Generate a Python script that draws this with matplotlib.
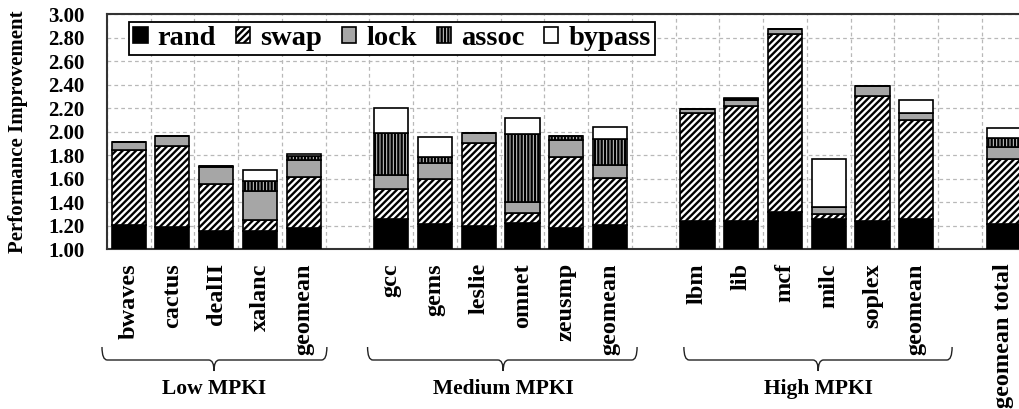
"""
Stacked performance improvement per benchmark, grouped by MPKI class
"""
import numpy as np
import matplotlib.pyplot as plt
from matplotlib import rcParams
from matplotlib.path import Path
from matplotlib.patches import PathPatch
from matplotlib.ticker import FixedLocator
import matplotlib.transforms as mtransforms

rcParams["font.family"] = "Liberation Serif"
rcParams["font.weight"] = "bold"
rcParams["axes.labelweight"] = "bold"
rcParams["hatch.linewidth"] = 1.7

groups = ["Low MPKI", "Medium MPKI", "High MPKI"]
benchmarks = [
    ["bwaves", "cactus", "dealII", "xalanc", "geomean"],
    ["gcc", "gems", "leslie", "omnet", "zeusmp", "geomean"],
    ["lbm", "lib", "mcf", "milc", "soplex", "geomean"],
]
total_label = "geomean total"

# contribution of each technique (rand is the absolute base)
rand = [1.21, 1.19, 1.16, 1.156, 1.18,
        1.254, 1.214, 1.20, 1.222, 1.182, 1.211,
        1.242, 1.242, 1.314, 1.256, 1.242, 1.259,
        1.219]
swap = [0.635, 0.693, 0.398, 0.094, 0.433,
        0.256, 0.384, 0.706, 0.083, 0.602, 0.393,
        0.920, 0.974, 1.521, 0.043, 1.060, 0.841,
        0.550]
lock = [0.067, 0.085, 0.142, 0.248, 0.147,
        0.120, 0.134, 0.083, 0.100, 0.148, 0.114,
        0.035, 0.054, 0.043, 0.063, 0.091, 0.060,
        0.103]
assoc = [0.0, 0.0, 0.005, 0.083, 0.035,
         0.364, 0.057, 0.0, 0.575, 0.030, 0.220,
         0.0, 0.010, 0.0, 0.0, 0.0, 0.0,
         0.079]
bypass = [0.0, 0.0, 0.005, 0.097, 0.015,
          0.209, 0.166, 0.0, 0.134, 0.004, 0.102,
          0.0, 0.005, 0.0, 0.410, 0.0, 0.111,
          0.083]

series = [
    ("rand", rand, dict(facecolor="black", hatch=None)),
    ("swap", swap, dict(facecolor="white", hatch="/////")),
    ("lock", lock, dict(facecolor="#a6a6a6", hatch=None)),
    ("assoc", assoc, dict(facecolor="#d4d4d4", hatch="|||||")),
    ("bypass", bypass, dict(facecolor="white", hatch=None)),
]

# bar positions: one empty slot between groups
pos = []
labels = []
start = 0
for names in benchmarks:
    pos += list(range(start, start + len(names)))
    labels += names
    start += len(names) + 1
pos.append(start)
labels.append(total_label)
pos = np.array(pos)

W, H = 1019, 409
fig = plt.figure(figsize=(W / 100, H / 100), dpi=100)
ax = fig.add_axes([106.8 / W, 1 - 249.3 / H, 918.8 / W, 235 / H])

bottom = np.zeros(len(pos))
for name, vals, style in series:
    vals = np.array(vals)
    ax.bar(pos, vals, width=0.78, bottom=bottom, label=name,
           edgecolor="black", linewidth=1.2, zorder=3, **style)
    bottom += vals

ax.set_xlim(-0.5, pos[-1] + 0.5)
ax.set_ylim(1.0, 3.0)
ax.set_yticks(np.arange(1.0, 3.01, 0.2))
ax.set_yticklabels(["%.2f" % v for v in np.arange(1.0, 3.01, 0.2)])
ax.set_xticks(pos)
ax.set_xticklabels(labels, rotation=90, va="top", ha="center")
ax.xaxis.set_minor_locator(FixedLocator(np.arange(-0.5, pos[-1] + 1, 1.0)))
ax.tick_params(axis="x", which="both", length=0, pad=10, labelsize=17.5)
ax.tick_params(axis="y", length=0, pad=16, labelsize=15)

ax.set_axisbelow(True)
ax.grid(True, axis="y", color="#b8b8b8", linestyle=(0, (3, 2.5)), linewidth=0.9)
ax.grid(True, axis="x", which="minor", color="#b8b8b8", linestyle=(0, (3, 2.5)), linewidth=0.9)

for side in ["left", "top", "bottom", "right"]:
    ax.spines[side].set_linewidth(1.5)
    ax.spines[side].set_color("#333333")

ax.set_ylabel("Performance Improvement", fontsize=15)
ax.yaxis.set_label_coords((28 - 106.8) / 918.8, 0.5)

leg = ax.legend(loc="upper left", ncol=5, fontsize=20.5,
                bbox_to_anchor=(129 / W, 1 - 21.7 / H), bbox_transform=fig.transFigure,
                borderaxespad=0, fancybox=False, framealpha=1, edgecolor="black",
                handlelength=0.5, handleheight=0.5, handletextpad=0.35,
                columnspacing=0.7, borderpad=0.15)
leg.get_frame().set_linewidth(1.3)

# braces under each group (x in data units, y in figure pixels)
trans = mtransforms.blended_transform_factory(ax.transData, fig.transFigure)
brace_spans = [(-0.61, 4.53, 1.95), (5.46, 11.62, 8.56), (12.69, 18.82, 15.76)]


def fy(px):
    return 1 - px / H


for (x0, x1, xm), name in zip(brace_spans, groups):
    d = 0.12
    y_top, y_mid, y_tip = fy(347), fy(360), fy(371)
    verts = [(x0, y_top), (x0, y_mid), (x0 + d, y_mid),
             (xm - d, y_mid), (xm, y_mid), (xm, y_tip),
             (xm, y_mid), (xm + d, y_mid),
             (x1 - d, y_mid), (x1, y_mid), (x1, y_top)]
    codes = [Path.MOVETO, Path.CURVE3, Path.CURVE3,
             Path.LINETO, Path.CURVE3, Path.CURVE3,
             Path.CURVE3, Path.CURVE3,
             Path.LINETO, Path.CURVE3, Path.CURVE3]
    ax.add_patch(PathPatch(Path(verts, codes), transform=trans, fill=False,
                           edgecolor="#222222", linewidth=1.0, clip_on=False))
    ax.text(xm, fy(389), name, transform=trans, ha="center", va="center",
            fontsize=15.5)

fig.savefig("out.png", dpi=100)
